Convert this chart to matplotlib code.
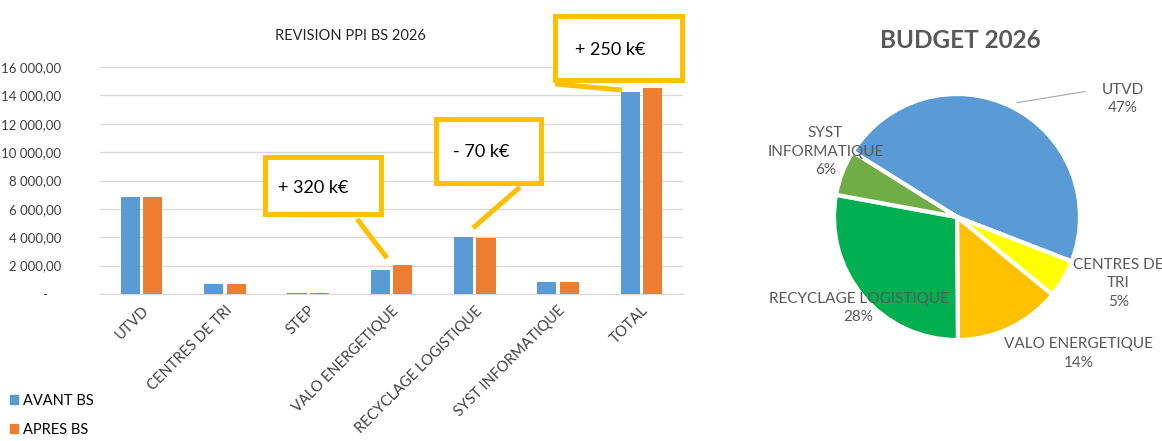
import matplotlib

matplotlib.use("Agg")
import matplotlib.pyplot as plt
from matplotlib.patches import Patch, Rectangle

# --- data -------------------------------------------------------------
categories = ["UTVD", "CENTRES DE TRI", "STEP", "VALO ENERGETIQUE",
              "RECYCLAGE LOGISTIQUE", "SYST INFORMATIQUE", "TOTAL"]
avant_bs = [6850, 720, 60, 1720, 4030, 870, 14250]
apres_bs = [6850, 720, 60, 2040, 3960, 870, 14500]
series_names = ["AVANT BS", "APRES BS"]
y_ticks = [0, 2000, 4000, 6000, 8000, 10000, 12000, 14000, 16000]

pie_labels = ["UTVD", "CENTRES DE\nTRI", "VALO ENERGETIQUE",
              "RECYCLAGE LOGISTIQUE", "SYST\nINFORMATIQUE"]
pie_shares = [47, 5, 14, 28, 6]

callout_texts = ["+ 320 k€", "- 70 k€", "+ 250 k€"]

BLUE = "#5B9BD5"
ORANGE = "#ED7D31"
GOLD = "#FFC000"
GRID = "#D9D9D9"
pie_colors = ["#5B9BD5", "#FFFF00", "#FFC000", "#00B050", "#70AD47"]

plt.rcParams["font.family"] = ["Lato", "DejaVu Sans"]

W, H = 1162, 441
fig = plt.figure(figsize=(W / 100, H / 100), dpi=100)


def fx(px):
    return px / W


def fy(py):
    return 1 - py / H


# --- bar chart ----------------------------------------------------------
ax = fig.add_axes([fx(100), fy(294), 583 / W, 227 / H])
xs = list(range(len(categories)))
bw = 0.23
off = 0.135
ax.bar([x - off for x in xs], avant_bs, bw, color=BLUE, label=series_names[0], zorder=3)
ax.bar([x + off for x in xs], apres_bs, bw, color=ORANGE, label=series_names[1], zorder=3)

ax.set_xlim(-0.5, len(categories) - 0.5)
ax.set_ylim(0, 16000)
ax.set_yticks(y_ticks)


def fmt(v):
    if v == 0:
        return "-    "
    return f"{v:,.2f}".replace(",", " ").replace(".", ",")


ax.set_yticklabels([fmt(v) for v in y_ticks], fontsize=9.5, color="#404040")
ax.set_xticks(xs)
ax.set_xticklabels(categories, rotation=45, ha="right", rotation_mode="anchor",
                   fontsize=10.5, color="#404040")
ax.tick_params(axis="both", length=0)
ax.tick_params(axis="y", pad=28)
ax.tick_params(axis="x", pad=7)
ax.grid(axis="y", color=GRID, linewidth=0.9, zorder=0)
for s in ["top", "right", "left"]:
    ax.spines[s].set_visible(False)
ax.spines["bottom"].set_color(GRID)

fig.text(fx(350), fy(36), "REVISION PPI BS 2026", ha="center", va="center",
         fontsize=10.5, color="#262626")

fig.legend(handles=[Patch(color=BLUE), Patch(color=ORANGE)], labels=series_names,
           loc="upper left", bbox_to_anchor=(fx(10), fy(394)), frameon=False,
           fontsize=10.5, handlelength=0.55, handleheight=0.55,
           handletextpad=0.35, labelspacing=1.0, borderaxespad=0, borderpad=0)


# callouts: box (x0, x1, y0, y1), pointer start, pointer tip, text anchor (pixels)
def px2d(px, py):
    return (px - 100) / (583 / 7) - 0.5, (294 - py) * 16000 / 227


callouts = [
    ((262, 383, 155, 217), (357, 219), (387, 258), (278, 188)),
    ((433, 543, 116, 185), (520, 187), (473, 228), (453, 152)),
    ((553, 685, 13, 82), (555, 84), (622, 90), (575, 50)),
]
lw_box = 3.6
for txt, (box, p0, p1, tp) in zip(callout_texts, callouts):
    inset = 2.5
    x0, y1 = px2d(box[0] + inset, box[2] + inset)
    x1, y0 = px2d(box[1] - inset, box[3] - inset)
    ax.add_patch(Rectangle((x0, y0), x1 - x0, y1 - y0, facecolor="white",
                           edgecolor=GOLD, linewidth=lw_box, clip_on=False, zorder=6))
    a = px2d(*p0)
    b = px2d(*p1)
    ax.plot([a[0], b[0]], [a[1], b[1]], color=GOLD, linewidth=lw_box,
            solid_capstyle="butt", clip_on=False, zorder=5)
    t = px2d(*tp)
    ax.text(t[0], t[1], txt, ha="left", va="center", fontsize=13,
            color="black", zorder=7, clip_on=False)

# --- pie chart ----------------------------------------------------------
cx, cy, r = 957, 217, 123
pax = fig.add_axes([fx(cx - r), fy(cy + r), 2 * r / W, 2 * r / H])
pax.pie(pie_shares, colors=pie_colors, startangle=148, counterclock=False,
        wedgeprops={"edgecolor": "white", "linewidth": 3})
pax.set_xlim(-1, 1)
pax.set_ylim(-1, 1)
pax.set_aspect("auto")
pax.axis("off")

label_pos = [(1.35, 0.96), (1.31, -0.54), (0.99, -1.11), (-0.80, -0.74), (-1.07, 0.53)]
for lab, share, (lx, ly) in zip(pie_labels, pie_shares, label_pos):
    pax.text(lx, ly, f"{lab}\n{share}%", ha="center", va="center", fontsize=11,
             color="#595959", linespacing=1.4, clip_on=False)
pax.plot([0.49, 1.04], [0.93, 1.02], color="#A6A6A6", linewidth=0.8, clip_on=False)

fig.text(fx(960), fy(41), "BUDGET 2026", ha="center", va="center",
         fontsize=17.5, fontweight="bold", color="#595959")

fig.savefig("out.png", dpi=100)
plt.close(fig)
